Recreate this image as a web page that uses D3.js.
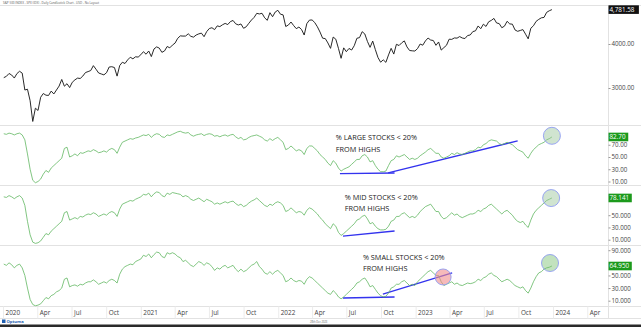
<!DOCTYPE html>
<html><head><meta charset="utf-8">
<script src="https://cdn.jsdelivr.net/npm/d3@7"></script>
<style>
html,body{margin:0;padding:0;background:#fff;}
svg{display:block;font-family:"Open Sans","Noto Sans",sans-serif;}
</style></head><body>
<svg id="c" width="641" height="327"></svg>
<script>
// ---------- DATA (weekly, first week ending 2020-01-03) ----------
const firstWeek = "2020-01-03";
const spx = [
3235,3265,3330,3295,3226,3328,3380,3338,2954,2972,2711,2240,2541,2489,2790,2875,2837,2831,2930,2864,2955,3044,3194,3041,3098,3009,3130,3185,3225,3216,3271,3351,3373,3397,3508,3427,3341,3319,3298,3348,3477,3484,3465,3270,3510,3585,3557,3638,3699,3663,3709,3703,
3756,3825,3768,3841,3714,3887,3934,3907,3811,3842,3943,3913,3975,4020,4129,4185,4180,4181,4232,4174,4156,4204,4230,4247,4166,4281,4352,4370,4327,4412,4395,4437,4468,4442,4509,4535,4459,4433,4455,4357,4391,4471,4545,4605,4697,4683,4698,4595,4538,4712,4620,4726,4766,
4677,4662,4398,4431,4500,4419,4349,4385,4329,4204,4463,4543,4546,4488,4392,4272,4132,4123,4024,3901,4158,4109,3901,3675,3912,3825,3899,3863,3962,4130,4145,4280,4228,4058,3924,4067,3873,3693,3586,3640,3583,3752,3901,3771,3993,3965,4026,4071,3934,3852,3845,3840,
3895,3999,3973,4070,4136,4090,4079,3970,4046,3862,3917,3971,4109,4105,4138,4133,4169,4136,4124,4192,4205,4282,4299,4410,4348,4450,4399,4505,4536,4582,4478,4464,4370,4406,4516,4457,4450,4320,4288,4308,4327,4224,4117,4358,4415,4514,4559,4595,4604,4719,4755,4781.58];
const largePct = [
88,87,89,88,86,88,89,86,78,55,30,12,8,10,14,22,28,25,32,36,40,44,48,64,66,50,52,55,52,57,56,58,60,59,62,60,57,58,60,58,62,64,62,56,66,74,76,78,80,79,81,82,
84,86,85,87,82,86,88,87,83,82,86,85,87,89,91,92,90,89,90,86,84,86,87,88,85,87,88,87,84,85,83,85,86,84,86,87,83,80,82,78,79,82,84,85,86,84,82,78,76,80,77,80,82,
78,74,62,64,68,64,60,62,60,54,64,68,68,64,60,54,50,46,40,36,44,40,32,27,30,32,34,38,42,46,46,52,54,50,42,44,36,30,26,26,27,36,44,46,52,50,52,54,50,46,48,46,
48,52,55,58,62,64,60,56,56,50,48,50,52,56,54,57,55,54,56,58,60,60,62,66,65,70,72,76,78,77,76,72,70,72,74,72,70,66,62,60,58,52,48,56,62,66,70,72,74,78,80,82.7];
const midPct = [
80,79,82,80,77,80,82,78,66,40,18,6,4,5,8,14,20,18,24,28,32,36,40,54,56,42,44,46,44,48,47,50,52,51,54,52,48,50,52,50,54,56,54,48,60,68,70,72,74,73,76,78,
80,84,83,86,80,85,88,87,82,80,86,84,87,86,85,84,80,82,80,76,74,76,78,75,72,76,74,72,68,70,68,70,72,70,72,73,69,66,68,64,66,70,73,75,78,74,70,66,64,68,66,70,72,
70,66,56,58,62,58,54,56,55,50,58,62,60,56,52,46,42,36,32,28,36,32,22,17,20,24,28,32,36,42,44,48,50,44,36,38,32,28,26,26,27,32,40,42,48,48,52,54,50,46,48,46,
50,56,60,64,66,68,62,56,56,48,44,46,50,54,50,52,48,46,48,50,52,52,54,58,56,60,62,66,68,64,60,56,52,56,58,54,50,44,40,38,40,34,30,42,52,58,62,66,70,74,76,78.141];
const smallPct = [
68,66,70,67,62,66,68,62,50,30,12,4,2,3,5,10,15,13,18,20,24,26,30,44,46,32,34,35,33,36,35,38,40,40,43,40,36,38,40,38,42,44,42,38,52,60,64,66,68,67,72,74,
76,82,80,84,78,83,87,86,80,78,86,84,86,84,80,78,72,74,70,66,64,68,72,70,66,70,68,64,58,62,60,64,66,62,64,66,60,56,60,56,58,62,66,68,72,64,60,54,52,56,52,56,58,
54,50,40,42,46,42,40,42,41,36,44,48,46,42,38,34,30,26,22,20,26,22,16,13,16,20,24,28,32,38,40,44,46,40,32,34,28,22,18,16,17,22,30,32,36,36,40,42,38,34,36,34,
40,44,48,52,56,58,54,50,50,40,34,36,38,40,36,38,35,34,36,38,37,38,40,44,42,46,48,52,54,50,48,44,40,42,44,42,38,34,32,30,32,26,22,30,40,48,54,56,60,62,63,64.95];

const spxTicks = [3000, 4000];
const pctTicks = [10, 30, 50, 70, 90];
const panelTitles = [["% LARGE STOCKS < 20%", "FROM HIGHS"], ["% MID STOCKS < 20%", "FROM HIGHS"], ["% SMALL STOCKS < 20%", "FROM HIGHS"]];
const titleAnchors = [["2022-06-03", 77.5], ["2022-06-27", 74.8], ["2022-08-14", 74.5]];
const trendLines = [
  [[["2022-06-14", 22.8], ["2022-11-06", 23.9]], [["2022-10-20", 23.9], ["2023-09-29", 76.4]]],
  [[["2022-06-22", 16], ["2022-11-06", 24.2]]],
  [[["2022-06-22", 14.3], ["2022-11-06", 15.9]], [["2022-10-06", 20.6], ["2023-04-08", 53.9]]]
];
const highlightCircles = [
  [["2023-12-29", 84.6, "green"]],
  [["2023-12-27", 78, "green"]],
  [["2023-03-15", 47.6, "red"], ["2023-12-24", 69.7, "green"]]
];
const headerText = "S&P 500 INDEX - SPX (IDX) - Daily Candlestick Chart - USD - No Layout";
const footerDate = "28th Dec 2023";

// ---------- CHART ----------
const W = 641, H = 327, plotR = 608.5;
const svg = d3.select("#c");
const parse = d3.timeParse("%Y-%m-%d");
const d0 = parse(firstWeek);
const dates = spx.map((_, i) => d3.timeDay.offset(d0, 7 * i));

const x = d3.scaleTime().domain([parse("2019-12-24"), parse("2024-05-26")]).range([0, 608]);

const panels = [
  {top: 5.5, bottom: 125.5, y: d3.scaleLinear().domain([3000, 4000]).range([88, 44]), vals: spx, ticks: spxTicks, fmt: d3.format(".2f"), color: "#1e1e1e", width: 0.95, box: "#111", boxFmt: d3.format(",.2f")},
  {top: 125.5, bottom: 185.5, y: d3.scaleLinear().domain([10, 90]).range([181.5, 132.5]), vals: largePct, ticks: pctTicks, fmt: d3.format(".2f"), color: "#62b862", width: 0.8, box: "#1c9a1c", boxFmt: d3.format(".2f")},
  {top: 185.5, bottom: 245.5, y: d3.scaleLinear().domain([10, 90]).range([239.7, 190.7]), vals: midPct, ticks: pctTicks, fmt: d3.format(".3f"), color: "#62b862", width: 0.8, box: "#1c9a1c", boxFmt: d3.format(".3f")},
  {top: 245.5, bottom: 306.5, y: d3.scaleLinear().domain([10, 90]).range([300.7, 250.2]), vals: smallPct, ticks: pctTicks, fmt: d3.format(".3f"), color: "#62b862", width: 0.8, box: "#1c9a1c", boxFmt: d3.format(".3f")}
];

// grid / frame lines
const frame = svg.append("g").attr("stroke", "#e2e2e2").attr("stroke-width", 1);
[5.5, 125.5, 185.5, 245.5, 306.5, 318.5].forEach(yy =>
  frame.append("line").attr("x1", 0).attr("x2", W).attr("y1", yy).attr("y2", yy));
frame.append("line").attr("x1", plotR).attr("x2", plotR).attr("y1", 5.5).attr("y2", 318.5);

// header
svg.append("text").attr("x", 3).attr("y", 4).attr("font-size", 3).attr("fill", "#555").text(headerText);

panels.forEach((p, pi) => {
  const clipId = "clip" + pi;
  svg.append("clipPath").attr("id", clipId).append("rect")
    .attr("x", 0).attr("y", p.top).attr("width", plotR).attr("height", p.bottom - p.top);
  const g = svg.append("g").attr("clip-path", `url(#${clipId})`);

  if (pi > 0) {
    trendLines[pi - 1].forEach(seg => {
      g.append("line")
        .attr("x1", x(parse(seg[0][0]))).attr("y1", p.y(seg[0][1]))
        .attr("x2", x(parse(seg[1][0]))).attr("y2", p.y(seg[1][1]))
        .attr("stroke", "#3333ee").attr("stroke-width", 1.3);
    });
  }

  const line = d3.line().x((d, i) => x(dates[i])).y(d => p.y(d));
  g.append("path").datum(p.vals).attr("d", line)
    .attr("fill", "none").attr("stroke", p.color).attr("stroke-width", p.width)
    .attr("stroke-linejoin", "round");

  if (pi > 0) {
    highlightCircles[pi - 1].forEach(c => {
      const red = c[2] === "red";
      g.append("circle").attr("cx", x(parse(c[0]))).attr("cy", p.y(c[1]))
        .attr("r", red ? 8 : 8.5)
        .attr("fill", red ? "rgba(240,140,140,0.6)" : (pi === 3 ? "rgba(120,190,110,0.45)" : "rgba(150,195,150,0.45)"))
        .attr("stroke", "#8e9cf2").attr("stroke-width", 0.9);
    });
    const [td, tv] = titleAnchors[pi - 1];
    const tx = x(parse(td)), ty = p.y(tv);
    panelTitles[pi - 1].forEach((t, k) => {
      svg.append("text").attr("x", tx).attr("y", ty + k * 11.4)
        .attr("font-size", 7.3).attr("fill", "#222").text(t);
    });
  }

  // last value position
  const last = p.vals[p.vals.length - 1];
  const by = p.y(last);

  // right axis (labels hidden under the value box are left out)
  const visTicks = p.ticks.filter(t => Math.abs(p.y(t) - by) > 7.5);
  const ax = svg.append("g").attr("transform", `translate(${plotR},0)`)
    .call(d3.axisRight(p.y).tickValues(visTicks).tickFormat(p.fmt).tickSize(2).tickPadding(1));
  ax.select(".domain").remove();
  ax.selectAll("line").attr("stroke", "#999");
  ax.selectAll("text").attr("font-size", 6.2).attr("fill", "#444").attr("font-family", '"Open Sans",sans-serif');

  const lbl = p.boxFmt(last);
  const bw = lbl.length * 3.55 + 2;
  svg.append("rect").attr("x", plotR).attr("y", by - 4.3).attr("width", bw).attr("height", 8.6).attr("fill", p.box);
  svg.append("text").attr("x", plotR + 1).attr("y", by + 2.2).attr("font-size", 6.3).attr("fill", "#fff").text(lbl);
});

// x axis
const xa = svg.append("g").attr("transform", "translate(0,306.5)")
  .call(d3.axisBottom(x).ticks(d3.timeMonth.every(3))
    .tickFormat(d => d.getMonth() === 0 ? d3.timeFormat("%Y")(d) : d3.timeFormat("%b")(d))
    .tickSize(12));
xa.select(".domain").remove();
xa.selectAll("line").attr("stroke", "#ececec");
xa.selectAll("text").attr("text-anchor", "start").attr("x", 2).attr("y", 8.2).attr("dy", 0)
  .attr("font-size", 6.4).attr("fill", "#444").attr("font-family", '"Open Sans",sans-serif');

// footer
const logo = svg.append("g");
logo.append("rect").attr("x", 2).attr("y", 319.5).attr("width", 3.5).attr("height", 3.5).attr("fill", "#1f5fb0");
logo.append("text").attr("x", 6.5).attr("y", 323).attr("font-size", 4.2).attr("font-weight", "bold").attr("fill", "#1f5fb0").text("Optuma");
svg.append("text").attr("x", 310).attr("y", 323).attr("font-size", 2.6).attr("fill", "#666").text(footerDate);
svg.append("rect").attr("x", 0).attr("y", 324.5).attr("width", W).attr("height", 2.5).attr("fill", "#2a2a2a");
</script>
</body></html>
